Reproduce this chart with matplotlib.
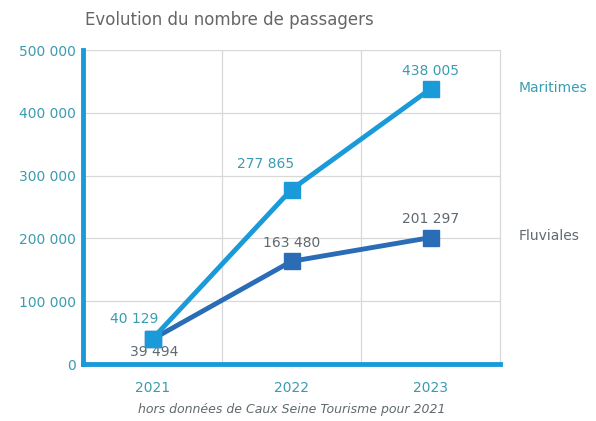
import matplotlib
matplotlib.use("Agg")
import matplotlib.pyplot as plt
from matplotlib.ticker import FuncFormatter

years = ["2021", "2022", "2023"]
maritimes = [40129, 277865, 438005]
fluviales = [39494, 163480, 201297]
yticks = [0, 100000, 200000, 300000, 400000, 500000]

c_mar = "#1a9ad8"
c_flu = "#2a6cb6"
c_txt = "#3a9cb0"
c_grey = "#5f6a6e"

plt.rcParams['font.family'] = ['DejaVu Sans']

fig = plt.figure(figsize=(5.96, 4.21), dpi=100)
ax = fig.add_axes([83/596, 1-364/421, (500-83)/596, (364-50)/421])

x = list(range(len(years)))
ax.plot(x, maritimes, color=c_mar, lw=3.5, marker="s", ms=11, zorder=4)
ax.plot(x, fluviales, color=c_flu, lw=3.5, marker="s", ms=11, zorder=3)

def fmt(v):
    return f"{v:,}".replace(",", " ")

# data labels
ax.annotate(fmt(maritimes[0]), (x[0], maritimes[0]), xytext=(-13, 9), textcoords="offset points",
            ha="center", va="bottom", color=c_txt, fontsize=10)
ax.annotate(fmt(maritimes[1]), (x[1], maritimes[1]), xytext=(-19, 13), textcoords="offset points",
            ha="center", va="bottom", color=c_txt, fontsize=10)
ax.annotate(fmt(maritimes[2]), (x[2], maritimes[2]), xytext=(0, 8), textcoords="offset points",
            ha="center", va="bottom", color=c_txt, fontsize=10)
ax.annotate(fmt(fluviales[0]), (x[0], fluviales[0]), xytext=(1, -4), textcoords="offset points",
            ha="center", va="top", color=c_grey, fontsize=10)
ax.annotate(fmt(fluviales[1]), (x[1], fluviales[1]), xytext=(0, 8), textcoords="offset points",
            ha="center", va="bottom", color=c_grey, fontsize=10)
ax.annotate(fmt(fluviales[2]), (x[2], fluviales[2]), xytext=(0, 8), textcoords="offset points",
            ha="center", va="bottom", color=c_grey, fontsize=10)

ax.set_xlim(-0.5, len(years) - 0.5)
ax.set_ylim(0, 500000)
ax.set_yticks(yticks)
ax.yaxis.set_major_formatter(FuncFormatter(lambda v, p: fmt(int(v))))
ax.set_xticks(x)
ax.set_xticklabels(years)
ax.tick_params(axis="both", length=0, colors=c_txt, labelsize=10)
ax.tick_params(axis="x", pad=12)
ax.tick_params(axis="y", pad=5)

# grid
ax.grid(axis="y", color="#d8d8d8", lw=0.9, zorder=0)
for gx in [0.5, 1.5, 2.5]:
    ax.axvline(gx, color="#d8d8d8", lw=0.9, zorder=0, clip_on=False)
ax.set_axisbelow(True)

for s in ["top", "right"]:
    ax.spines[s].set_visible(False)
ax.spines["left"].set_color(c_mar)
ax.spines["left"].set_linewidth(3.5)
ax.spines["bottom"].set_color(c_mar)
ax.spines["bottom"].set_linewidth(3.5)

fig.text(85/596, 1-20/421, "Evolution du nombre de passagers", color="#666666", fontsize=12,
         ha="left", va="center")
fig.text(519/596, 1-88/421, "Maritimes", color=c_txt, fontsize=10, ha="left", va="center")
fig.text(519/596, 1-236/421, "Fluviales", color=c_grey, fontsize=10, ha="left", va="center")
fig.text(292/596, 1-410/421, "hors données de Caux Seine Tourisme pour 2021", color=c_grey,
         fontsize=9, style="italic", ha="center", va="center")

fig.savefig("out.png", dpi=100, facecolor="white")
